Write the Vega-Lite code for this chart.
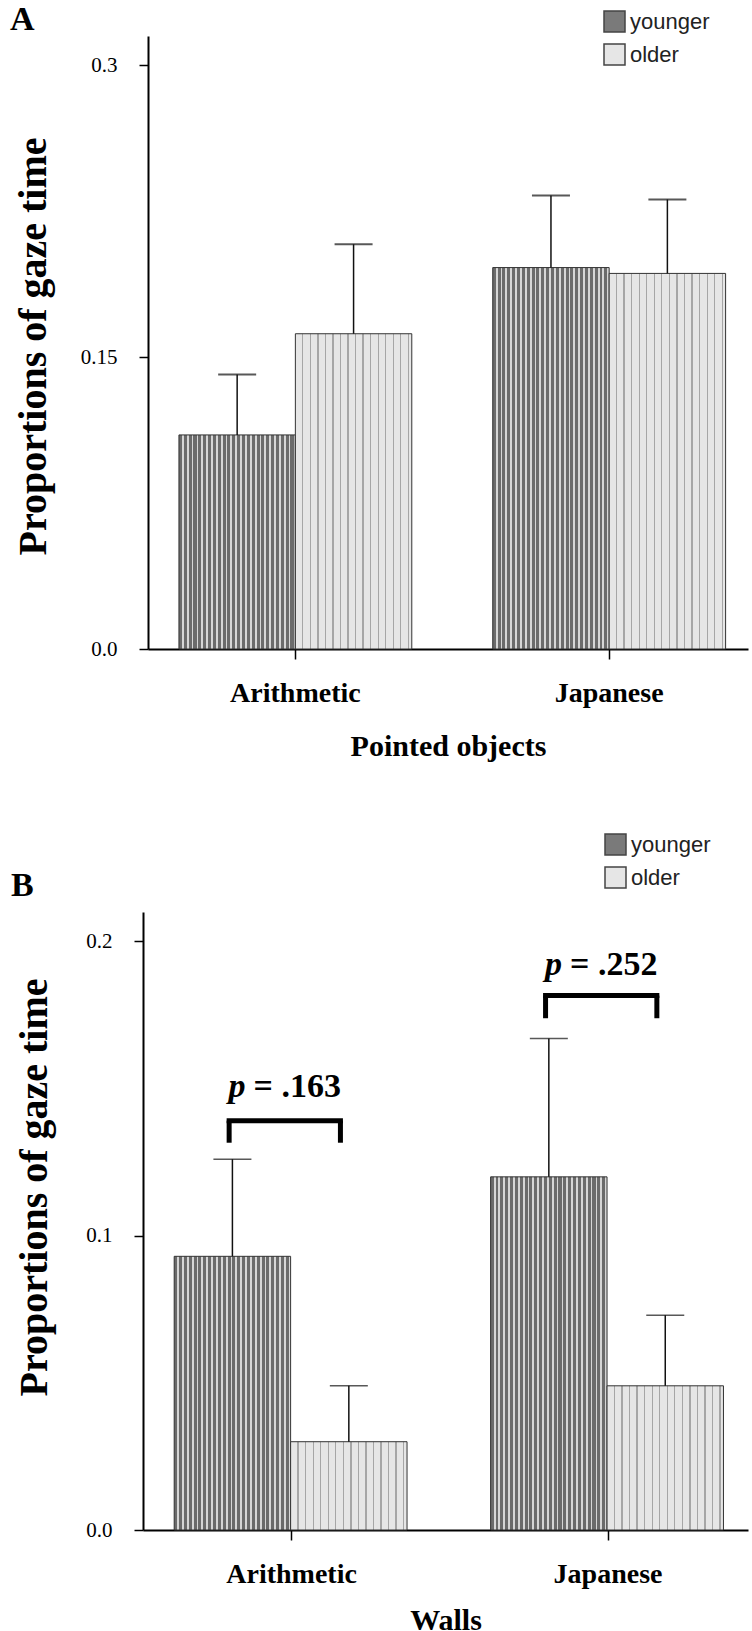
{
  "$schema": "https://vega.github.io/schema/vega-lite/v6.json",
  "padding": {"left": 10, "top": 3, "right": 0, "bottom": 0},
  "spacing": 72,
  "resolve": {"scale": {"color": "independent"}, "legend": {"color": "independent"}},
  "config": {
    "view": {"stroke": null},
    "axis": {"grid": false, "domainColor": "black", "tickColor": "black", "labelColor": "black", "titleColor": "black", "labelFont": "Liberation Serif", "titleFont": "Liberation Serif"},
    "title": {"font": "Liberation Serif", "fontWeight": "bold", "fontSize": 34, "color": "black", "anchor": "start", "frame": "bounds"}
  },
  "vconcat": [
    {
      "title": {"text": "A", "dx": -3, "offset": -27},
      "width": 600,
      "height": 613,
      "data": {"values": [
        {"cat": "Arithmetic", "group": "younger", "mean": 0.110, "upper": 0.141},
        {"cat": "Arithmetic", "group": "older", "mean": 0.162, "upper": 0.208},
        {"cat": "Japanese", "group": "younger", "mean": 0.196, "upper": 0.233},
        {"cat": "Japanese", "group": "older", "mean": 0.193, "upper": 0.231}
      ]},
      "encoding": {
        "x": {"field": "cat", "type": "nominal", "sort": ["Arithmetic", "Japanese"],
          "scale": {"paddingInner": 0.258, "paddingOuter": 0.085, "align": 0.58},
          "axis": {"title": "Pointed objects", "labelAngle": 0, "labelFontWeight": "bold", "labelFontSize": 28, "labelPadding": 20, "tickSize": 10, "tickWidth": 1.5, "domainWidth": 2, "titleFontSize": 30, "titleFontWeight": "bold", "titlePadding": 24}}
      },
      "layer": [
        {
          "mark": {"type": "bar", "stroke": "#333333", "strokeWidth": 1},
          "encoding": {
            "xOffset": {"field": "group", "type": "nominal", "scale": {"domain": ["younger", "older"], "paddingInner": 0, "paddingOuter": 0}},
            "y": {"field": "mean", "type": "quantitative", "title": "Proportions of gaze time",
              "scale": {"domain": [0, 0.315], "nice": false},
              "axis": {"values": [0, 0.15, 0.3], "labelExpr": "datum.value == 0 ? '0.0' : format(datum.value, '.2~f')", "labelFontSize": 21, "labelPadding": 22, "tickSize": 9, "tickWidth": 1.5, "domainWidth": 2, "titleFontSize": 40, "titleFontWeight": "bold", "titleX": -115, "titleY": 310, "titleAlign": "center", "titleBaseline": "middle", "titleAngle": 270}},
            "color": {"field": "group", "type": "nominal",
              "condition": [
                {"test": "datum.group === 'younger'", "value": {"gradient": "linear", "x1": 0, "y1": 0, "x2": 1, "y2": 0, "stops": [
                  {"offset": 0, "color": "#6b6b6b"}, {"offset": 0.026, "color": "#6b6b6b"}, {"offset": 0.026, "color": "#d6d6d6"}, {"offset": 0.042, "color": "#d6d6d6"},
                  {"offset": 0.042, "color": "#6b6b6b"}, {"offset": 0.067, "color": "#6b6b6b"}, {"offset": 0.067, "color": "#d6d6d6"}, {"offset": 0.083, "color": "#d6d6d6"},
                  {"offset": 0.083, "color": "#6b6b6b"}, {"offset": 0.109, "color": "#6b6b6b"}, {"offset": 0.109, "color": "#d6d6d6"}, {"offset": 0.125, "color": "#d6d6d6"},
                  {"offset": 0.125, "color": "#6b6b6b"}, {"offset": 0.151, "color": "#6b6b6b"}, {"offset": 0.151, "color": "#d6d6d6"}, {"offset": 0.167, "color": "#d6d6d6"},
                  {"offset": 0.167, "color": "#6b6b6b"}, {"offset": 0.192, "color": "#6b6b6b"}, {"offset": 0.192, "color": "#d6d6d6"}, {"offset": 0.208, "color": "#d6d6d6"},
                  {"offset": 0.208, "color": "#6b6b6b"}, {"offset": 0.234, "color": "#6b6b6b"}, {"offset": 0.234, "color": "#d6d6d6"}, {"offset": 0.25, "color": "#d6d6d6"},
                  {"offset": 0.25, "color": "#6b6b6b"}, {"offset": 0.276, "color": "#6b6b6b"}, {"offset": 0.276, "color": "#d6d6d6"}, {"offset": 0.292, "color": "#d6d6d6"},
                  {"offset": 0.292, "color": "#6b6b6b"}, {"offset": 0.317, "color": "#6b6b6b"}, {"offset": 0.317, "color": "#d6d6d6"}, {"offset": 0.333, "color": "#d6d6d6"},
                  {"offset": 0.333, "color": "#6b6b6b"}, {"offset": 0.359, "color": "#6b6b6b"}, {"offset": 0.359, "color": "#d6d6d6"}, {"offset": 0.375, "color": "#d6d6d6"},
                  {"offset": 0.375, "color": "#6b6b6b"}, {"offset": 0.401, "color": "#6b6b6b"}, {"offset": 0.401, "color": "#d6d6d6"}, {"offset": 0.417, "color": "#d6d6d6"},
                  {"offset": 0.417, "color": "#6b6b6b"}, {"offset": 0.442, "color": "#6b6b6b"}, {"offset": 0.442, "color": "#d6d6d6"}, {"offset": 0.458, "color": "#d6d6d6"},
                  {"offset": 0.458, "color": "#6b6b6b"}, {"offset": 0.484, "color": "#6b6b6b"}, {"offset": 0.484, "color": "#d6d6d6"}, {"offset": 0.5, "color": "#d6d6d6"},
                  {"offset": 0.5, "color": "#6b6b6b"}, {"offset": 0.526, "color": "#6b6b6b"}, {"offset": 0.526, "color": "#d6d6d6"}, {"offset": 0.542, "color": "#d6d6d6"},
                  {"offset": 0.542, "color": "#6b6b6b"}, {"offset": 0.567, "color": "#6b6b6b"}, {"offset": 0.567, "color": "#d6d6d6"}, {"offset": 0.583, "color": "#d6d6d6"},
                  {"offset": 0.583, "color": "#6b6b6b"}, {"offset": 0.609, "color": "#6b6b6b"}, {"offset": 0.609, "color": "#d6d6d6"}, {"offset": 0.625, "color": "#d6d6d6"},
                  {"offset": 0.625, "color": "#6b6b6b"}, {"offset": 0.651, "color": "#6b6b6b"}, {"offset": 0.651, "color": "#d6d6d6"}, {"offset": 0.667, "color": "#d6d6d6"},
                  {"offset": 0.667, "color": "#6b6b6b"}, {"offset": 0.692, "color": "#6b6b6b"}, {"offset": 0.692, "color": "#d6d6d6"}, {"offset": 0.708, "color": "#d6d6d6"},
                  {"offset": 0.708, "color": "#6b6b6b"}, {"offset": 0.734, "color": "#6b6b6b"}, {"offset": 0.734, "color": "#d6d6d6"}, {"offset": 0.75, "color": "#d6d6d6"},
                  {"offset": 0.75, "color": "#6b6b6b"}, {"offset": 0.776, "color": "#6b6b6b"}, {"offset": 0.776, "color": "#d6d6d6"}, {"offset": 0.792, "color": "#d6d6d6"},
                  {"offset": 0.792, "color": "#6b6b6b"}, {"offset": 0.817, "color": "#6b6b6b"}, {"offset": 0.817, "color": "#d6d6d6"}, {"offset": 0.833, "color": "#d6d6d6"},
                  {"offset": 0.833, "color": "#6b6b6b"}, {"offset": 0.859, "color": "#6b6b6b"}, {"offset": 0.859, "color": "#d6d6d6"}, {"offset": 0.875, "color": "#d6d6d6"},
                  {"offset": 0.875, "color": "#6b6b6b"}, {"offset": 0.901, "color": "#6b6b6b"}, {"offset": 0.901, "color": "#d6d6d6"}, {"offset": 0.917, "color": "#d6d6d6"},
                  {"offset": 0.917, "color": "#6b6b6b"}, {"offset": 0.942, "color": "#6b6b6b"}, {"offset": 0.942, "color": "#d6d6d6"}, {"offset": 0.958, "color": "#d6d6d6"},
                  {"offset": 0.958, "color": "#6b6b6b"}, {"offset": 0.984, "color": "#6b6b6b"}, {"offset": 0.984, "color": "#d6d6d6"}, {"offset": 1, "color": "#d6d6d6"}
                ]}},
                {"test": "datum.group === 'older'", "value": {"gradient": "linear", "x1": 0, "y1": 0, "x2": 1, "y2": 0, "stops": [
                  {"offset": 0, "color": "#e6e6e6"},
                  {"offset": 0.058, "color": "#e6e6e6"}, {"offset": 0.058, "color": "#a6a6a6"}, {"offset": 0.069, "color": "#a6a6a6"}, {"offset": 0.069, "color": "#e6e6e6"},
                  {"offset": 0.123, "color": "#e6e6e6"}, {"offset": 0.123, "color": "#a6a6a6"}, {"offset": 0.134, "color": "#a6a6a6"}, {"offset": 0.134, "color": "#e6e6e6"},
                  {"offset": 0.188, "color": "#e6e6e6"}, {"offset": 0.188, "color": "#a6a6a6"}, {"offset": 0.199, "color": "#a6a6a6"}, {"offset": 0.199, "color": "#e6e6e6"},
                  {"offset": 0.252, "color": "#e6e6e6"}, {"offset": 0.252, "color": "#a6a6a6"}, {"offset": 0.263, "color": "#a6a6a6"}, {"offset": 0.263, "color": "#e6e6e6"},
                  {"offset": 0.317, "color": "#e6e6e6"}, {"offset": 0.317, "color": "#a6a6a6"}, {"offset": 0.328, "color": "#a6a6a6"}, {"offset": 0.328, "color": "#e6e6e6"},
                  {"offset": 0.382, "color": "#e6e6e6"}, {"offset": 0.382, "color": "#a6a6a6"}, {"offset": 0.393, "color": "#a6a6a6"}, {"offset": 0.393, "color": "#e6e6e6"},
                  {"offset": 0.447, "color": "#e6e6e6"}, {"offset": 0.447, "color": "#a6a6a6"}, {"offset": 0.458, "color": "#a6a6a6"}, {"offset": 0.458, "color": "#e6e6e6"},
                  {"offset": 0.512, "color": "#e6e6e6"}, {"offset": 0.512, "color": "#a6a6a6"}, {"offset": 0.523, "color": "#a6a6a6"}, {"offset": 0.523, "color": "#e6e6e6"},
                  {"offset": 0.576, "color": "#e6e6e6"}, {"offset": 0.576, "color": "#a6a6a6"}, {"offset": 0.587, "color": "#a6a6a6"}, {"offset": 0.587, "color": "#e6e6e6"},
                  {"offset": 0.641, "color": "#e6e6e6"}, {"offset": 0.641, "color": "#a6a6a6"}, {"offset": 0.652, "color": "#a6a6a6"}, {"offset": 0.652, "color": "#e6e6e6"},
                  {"offset": 0.706, "color": "#e6e6e6"}, {"offset": 0.706, "color": "#a6a6a6"}, {"offset": 0.717, "color": "#a6a6a6"}, {"offset": 0.717, "color": "#e6e6e6"},
                  {"offset": 0.771, "color": "#e6e6e6"}, {"offset": 0.771, "color": "#a6a6a6"}, {"offset": 0.782, "color": "#a6a6a6"}, {"offset": 0.782, "color": "#e6e6e6"},
                  {"offset": 0.836, "color": "#e6e6e6"}, {"offset": 0.836, "color": "#a6a6a6"}, {"offset": 0.847, "color": "#a6a6a6"}, {"offset": 0.847, "color": "#e6e6e6"},
                  {"offset": 0.9, "color": "#e6e6e6"}, {"offset": 0.9, "color": "#a6a6a6"}, {"offset": 0.911, "color": "#a6a6a6"}, {"offset": 0.911, "color": "#e6e6e6"},
                  {"offset": 0.965, "color": "#e6e6e6"}, {"offset": 0.965, "color": "#a6a6a6"}, {"offset": 0.976, "color": "#a6a6a6"}, {"offset": 0.976, "color": "#e6e6e6"},
                  {"offset": 1, "color": "#e6e6e6"}
                ]}}
              ],
              "scale": {"domain": ["younger", "older"], "range": ["#7a7a7a", "#e6e6e6"]},
              "legend": {"orient": "none", "legendX": 455, "legendY": -26, "title": null, "padding": 0, "symbolType": "square", "symbolSize": 441, "symbolStrokeColor": "#444444", "symbolStrokeWidth": 1.5, "symbolOpacity": 1, "labelFont": "Liberation Sans", "labelFontSize": 22, "labelColor": "#222222", "labelOffset": 4, "rowPadding": 6}}
          }
        },
        {
          "mark": {"type": "rule", "color": "#111111", "strokeWidth": 1.5},
          "encoding": {
            "xOffset": {"field": "group", "type": "nominal"},
            "y": {"field": "mean", "type": "quantitative", "title": "Proportions of gaze time"},
            "y2": {"field": "upper"}
          }
        },
        {
          "mark": {"type": "tick", "color": "#111111", "thickness": 2, "size": 38},
          "encoding": {
            "xOffset": {"field": "group", "type": "nominal"},
            "y": {"field": "upper", "type": "quantitative", "title": "Proportions of gaze time"}
          }
        }
      ]
    },
    {
      "title": {"text": "B", "dx": -3, "offset": -70},
      "width": 600,
      "height": 618,
      "data": {"values": [
        {"cat": "Arithmetic", "group": "younger", "mean": 0.093, "upper": 0.126},
        {"cat": "Arithmetic", "group": "older", "mean": 0.030, "upper": 0.049},
        {"cat": "Japanese", "group": "younger", "mean": 0.120, "upper": 0.167},
        {"cat": "Japanese", "group": "older", "mean": 0.049, "upper": 0.073}
      ]},
      "encoding": {
        "x": {"field": "cat", "type": "nominal", "sort": ["Arithmetic", "Japanese"],
          "scale": {"paddingInner": 0.258, "paddingOuter": 0.085, "align": 0.58, "range": [-5, 600]},
          "axis": {"title": "Walls", "labelAngle": 0, "labelFontWeight": "bold", "labelFontSize": 28, "labelPadding": 20, "tickSize": 10, "tickWidth": 1.5, "domainWidth": 2, "titleFontSize": 30, "titleFontWeight": "bold", "titlePadding": 17}}
      },
      "layer": [
        {
          "mark": {"type": "bar", "stroke": "#333333", "strokeWidth": 1},
          "encoding": {
            "xOffset": {"field": "group", "type": "nominal", "scale": {"domain": ["younger", "older"], "paddingInner": 0, "paddingOuter": 0}},
            "y": {"field": "mean", "type": "quantitative", "title": "Proportions of gaze time",
              "scale": {"domain": [0, 0.21], "nice": false},
              "axis": {"values": [0, 0.1, 0.2], "format": ".1f", "offset": 5, "labelFontSize": 21, "labelPadding": 22, "tickSize": 9, "tickWidth": 1.5, "domainWidth": 2, "titleFontSize": 40, "titleFontWeight": "bold", "titleX": -109, "titleY": 275, "titleAlign": "center", "titleBaseline": "middle", "titleAngle": 270}},
            "color": {"field": "group", "type": "nominal",
              "condition": [
                {"test": "datum.group === 'younger'", "value": {"gradient": "linear", "x1": 0, "y1": 0, "x2": 1, "y2": 0, "stops": [
                  {"offset": 0, "color": "#6b6b6b"}, {"offset": 0.026, "color": "#6b6b6b"}, {"offset": 0.026, "color": "#d6d6d6"}, {"offset": 0.042, "color": "#d6d6d6"},
                  {"offset": 0.042, "color": "#6b6b6b"}, {"offset": 0.067, "color": "#6b6b6b"}, {"offset": 0.067, "color": "#d6d6d6"}, {"offset": 0.083, "color": "#d6d6d6"},
                  {"offset": 0.083, "color": "#6b6b6b"}, {"offset": 0.109, "color": "#6b6b6b"}, {"offset": 0.109, "color": "#d6d6d6"}, {"offset": 0.125, "color": "#d6d6d6"},
                  {"offset": 0.125, "color": "#6b6b6b"}, {"offset": 0.151, "color": "#6b6b6b"}, {"offset": 0.151, "color": "#d6d6d6"}, {"offset": 0.167, "color": "#d6d6d6"},
                  {"offset": 0.167, "color": "#6b6b6b"}, {"offset": 0.192, "color": "#6b6b6b"}, {"offset": 0.192, "color": "#d6d6d6"}, {"offset": 0.208, "color": "#d6d6d6"},
                  {"offset": 0.208, "color": "#6b6b6b"}, {"offset": 0.234, "color": "#6b6b6b"}, {"offset": 0.234, "color": "#d6d6d6"}, {"offset": 0.25, "color": "#d6d6d6"},
                  {"offset": 0.25, "color": "#6b6b6b"}, {"offset": 0.276, "color": "#6b6b6b"}, {"offset": 0.276, "color": "#d6d6d6"}, {"offset": 0.292, "color": "#d6d6d6"},
                  {"offset": 0.292, "color": "#6b6b6b"}, {"offset": 0.317, "color": "#6b6b6b"}, {"offset": 0.317, "color": "#d6d6d6"}, {"offset": 0.333, "color": "#d6d6d6"},
                  {"offset": 0.333, "color": "#6b6b6b"}, {"offset": 0.359, "color": "#6b6b6b"}, {"offset": 0.359, "color": "#d6d6d6"}, {"offset": 0.375, "color": "#d6d6d6"},
                  {"offset": 0.375, "color": "#6b6b6b"}, {"offset": 0.401, "color": "#6b6b6b"}, {"offset": 0.401, "color": "#d6d6d6"}, {"offset": 0.417, "color": "#d6d6d6"},
                  {"offset": 0.417, "color": "#6b6b6b"}, {"offset": 0.442, "color": "#6b6b6b"}, {"offset": 0.442, "color": "#d6d6d6"}, {"offset": 0.458, "color": "#d6d6d6"},
                  {"offset": 0.458, "color": "#6b6b6b"}, {"offset": 0.484, "color": "#6b6b6b"}, {"offset": 0.484, "color": "#d6d6d6"}, {"offset": 0.5, "color": "#d6d6d6"},
                  {"offset": 0.5, "color": "#6b6b6b"}, {"offset": 0.526, "color": "#6b6b6b"}, {"offset": 0.526, "color": "#d6d6d6"}, {"offset": 0.542, "color": "#d6d6d6"},
                  {"offset": 0.542, "color": "#6b6b6b"}, {"offset": 0.567, "color": "#6b6b6b"}, {"offset": 0.567, "color": "#d6d6d6"}, {"offset": 0.583, "color": "#d6d6d6"},
                  {"offset": 0.583, "color": "#6b6b6b"}, {"offset": 0.609, "color": "#6b6b6b"}, {"offset": 0.609, "color": "#d6d6d6"}, {"offset": 0.625, "color": "#d6d6d6"},
                  {"offset": 0.625, "color": "#6b6b6b"}, {"offset": 0.651, "color": "#6b6b6b"}, {"offset": 0.651, "color": "#d6d6d6"}, {"offset": 0.667, "color": "#d6d6d6"},
                  {"offset": 0.667, "color": "#6b6b6b"}, {"offset": 0.692, "color": "#6b6b6b"}, {"offset": 0.692, "color": "#d6d6d6"}, {"offset": 0.708, "color": "#d6d6d6"},
                  {"offset": 0.708, "color": "#6b6b6b"}, {"offset": 0.734, "color": "#6b6b6b"}, {"offset": 0.734, "color": "#d6d6d6"}, {"offset": 0.75, "color": "#d6d6d6"},
                  {"offset": 0.75, "color": "#6b6b6b"}, {"offset": 0.776, "color": "#6b6b6b"}, {"offset": 0.776, "color": "#d6d6d6"}, {"offset": 0.792, "color": "#d6d6d6"},
                  {"offset": 0.792, "color": "#6b6b6b"}, {"offset": 0.817, "color": "#6b6b6b"}, {"offset": 0.817, "color": "#d6d6d6"}, {"offset": 0.833, "color": "#d6d6d6"},
                  {"offset": 0.833, "color": "#6b6b6b"}, {"offset": 0.859, "color": "#6b6b6b"}, {"offset": 0.859, "color": "#d6d6d6"}, {"offset": 0.875, "color": "#d6d6d6"},
                  {"offset": 0.875, "color": "#6b6b6b"}, {"offset": 0.901, "color": "#6b6b6b"}, {"offset": 0.901, "color": "#d6d6d6"}, {"offset": 0.917, "color": "#d6d6d6"},
                  {"offset": 0.917, "color": "#6b6b6b"}, {"offset": 0.942, "color": "#6b6b6b"}, {"offset": 0.942, "color": "#d6d6d6"}, {"offset": 0.958, "color": "#d6d6d6"},
                  {"offset": 0.958, "color": "#6b6b6b"}, {"offset": 0.984, "color": "#6b6b6b"}, {"offset": 0.984, "color": "#d6d6d6"}, {"offset": 1, "color": "#d6d6d6"}
                ]}},
                {"test": "datum.group === 'older'", "value": {"gradient": "linear", "x1": 0, "y1": 0, "x2": 1, "y2": 0, "stops": [
                  {"offset": 0, "color": "#e6e6e6"},
                  {"offset": 0.058, "color": "#e6e6e6"}, {"offset": 0.058, "color": "#a6a6a6"}, {"offset": 0.069, "color": "#a6a6a6"}, {"offset": 0.069, "color": "#e6e6e6"},
                  {"offset": 0.123, "color": "#e6e6e6"}, {"offset": 0.123, "color": "#a6a6a6"}, {"offset": 0.134, "color": "#a6a6a6"}, {"offset": 0.134, "color": "#e6e6e6"},
                  {"offset": 0.188, "color": "#e6e6e6"}, {"offset": 0.188, "color": "#a6a6a6"}, {"offset": 0.199, "color": "#a6a6a6"}, {"offset": 0.199, "color": "#e6e6e6"},
                  {"offset": 0.252, "color": "#e6e6e6"}, {"offset": 0.252, "color": "#a6a6a6"}, {"offset": 0.263, "color": "#a6a6a6"}, {"offset": 0.263, "color": "#e6e6e6"},
                  {"offset": 0.317, "color": "#e6e6e6"}, {"offset": 0.317, "color": "#a6a6a6"}, {"offset": 0.328, "color": "#a6a6a6"}, {"offset": 0.328, "color": "#e6e6e6"},
                  {"offset": 0.382, "color": "#e6e6e6"}, {"offset": 0.382, "color": "#a6a6a6"}, {"offset": 0.393, "color": "#a6a6a6"}, {"offset": 0.393, "color": "#e6e6e6"},
                  {"offset": 0.447, "color": "#e6e6e6"}, {"offset": 0.447, "color": "#a6a6a6"}, {"offset": 0.458, "color": "#a6a6a6"}, {"offset": 0.458, "color": "#e6e6e6"},
                  {"offset": 0.512, "color": "#e6e6e6"}, {"offset": 0.512, "color": "#a6a6a6"}, {"offset": 0.523, "color": "#a6a6a6"}, {"offset": 0.523, "color": "#e6e6e6"},
                  {"offset": 0.576, "color": "#e6e6e6"}, {"offset": 0.576, "color": "#a6a6a6"}, {"offset": 0.587, "color": "#a6a6a6"}, {"offset": 0.587, "color": "#e6e6e6"},
                  {"offset": 0.641, "color": "#e6e6e6"}, {"offset": 0.641, "color": "#a6a6a6"}, {"offset": 0.652, "color": "#a6a6a6"}, {"offset": 0.652, "color": "#e6e6e6"},
                  {"offset": 0.706, "color": "#e6e6e6"}, {"offset": 0.706, "color": "#a6a6a6"}, {"offset": 0.717, "color": "#a6a6a6"}, {"offset": 0.717, "color": "#e6e6e6"},
                  {"offset": 0.771, "color": "#e6e6e6"}, {"offset": 0.771, "color": "#a6a6a6"}, {"offset": 0.782, "color": "#a6a6a6"}, {"offset": 0.782, "color": "#e6e6e6"},
                  {"offset": 0.836, "color": "#e6e6e6"}, {"offset": 0.836, "color": "#a6a6a6"}, {"offset": 0.847, "color": "#a6a6a6"}, {"offset": 0.847, "color": "#e6e6e6"},
                  {"offset": 0.9, "color": "#e6e6e6"}, {"offset": 0.9, "color": "#a6a6a6"}, {"offset": 0.911, "color": "#a6a6a6"}, {"offset": 0.911, "color": "#e6e6e6"},
                  {"offset": 0.965, "color": "#e6e6e6"}, {"offset": 0.965, "color": "#a6a6a6"}, {"offset": 0.976, "color": "#a6a6a6"}, {"offset": 0.976, "color": "#e6e6e6"},
                  {"offset": 1, "color": "#e6e6e6"}
                ]}}
              ],
              "scale": {"domain": ["younger", "older"], "range": ["#7a7a7a", "#e6e6e6"]},
              "legend": {"orient": "none", "legendX": 456, "legendY": -79, "title": null, "padding": 0, "symbolType": "square", "symbolSize": 441, "symbolStrokeColor": "#444444", "symbolStrokeWidth": 1.5, "symbolOpacity": 1, "labelFont": "Liberation Sans", "labelFontSize": 22, "labelColor": "#222222", "labelOffset": 4, "rowPadding": 6}}
          }
        },
        {
          "mark": {"type": "rule", "color": "#111111", "strokeWidth": 1.5},
          "encoding": {
            "xOffset": {"field": "group", "type": "nominal"},
            "y": {"field": "mean", "type": "quantitative", "title": "Proportions of gaze time"},
            "y2": {"field": "upper"}
          }
        },
        {
          "mark": {"type": "tick", "color": "#111111", "thickness": 1.5, "size": 38},
          "encoding": {
            "xOffset": {"field": "group", "type": "nominal"},
            "y": {"field": "upper", "type": "quantitative", "title": "Proportions of gaze time"}
          }
        },
        {
          "data": {"values": [
            {"cat": "Arithmetic", "lo": 0.1316, "hi": 0.1391},
            {"cat": "Japanese", "lo": 0.1739, "hi": 0.1816}
          ]},
          "layer": [
            {
              "mark": {"type": "rule", "color": "black", "strokeWidth": 5, "strokeCap": "butt"},
              "encoding": {
                "x": {"field": "cat", "type": "nominal", "bandPosition": 0.234},
                "y": {"field": "lo", "type": "quantitative", "title": "Proportions of gaze time"},
                "y2": {"field": "hi"}
              }
            },
            {
              "mark": {"type": "rule", "color": "black", "strokeWidth": 5, "strokeCap": "butt"},
              "encoding": {
                "x": {"field": "cat", "type": "nominal", "bandPosition": 0.708},
                "y": {"field": "lo", "type": "quantitative", "title": "Proportions of gaze time"},
                "y2": {"field": "hi"}
              }
            },
            {
              "mark": {"type": "rule", "color": "black", "strokeWidth": 5, "strokeCap": "square"},
              "encoding": {
                "x": {"field": "cat", "type": "nominal", "bandPosition": 0.234},
                "x2": {"field": "cat", "bandPosition": 0.708},
                "y": {"field": "hi", "type": "quantitative", "title": "Proportions of gaze time"}
              }
            }
          ]
        },
        {
          "data": {"values": [
            {"cat": "Arithmetic", "v": 0.1473, "p": "p", "rest": "= .163"},
            {"cat": "Japanese", "v": 0.1886, "p": "p", "rest": "= .252"}
          ]},
          "layer": [
            {
              "mark": {"type": "text", "font": "Liberation Serif", "fontWeight": "bold", "fontStyle": "italic", "fontSize": 34, "align": "right", "baseline": "alphabetic", "dx": -46, "color": "black"},
              "encoding": {"y": {"field": "v", "type": "quantitative", "title": "Proportions of gaze time"}, "text": {"field": "p"}}
            },
            {
              "mark": {"type": "text", "font": "Liberation Serif", "fontWeight": "bold", "fontSize": 34, "align": "left", "baseline": "alphabetic", "dx": -38, "color": "black"},
              "encoding": {"y": {"field": "v", "type": "quantitative", "title": "Proportions of gaze time"}, "text": {"field": "rest"}}
            }
          ]
        }
      ]
    }
  ]
}
